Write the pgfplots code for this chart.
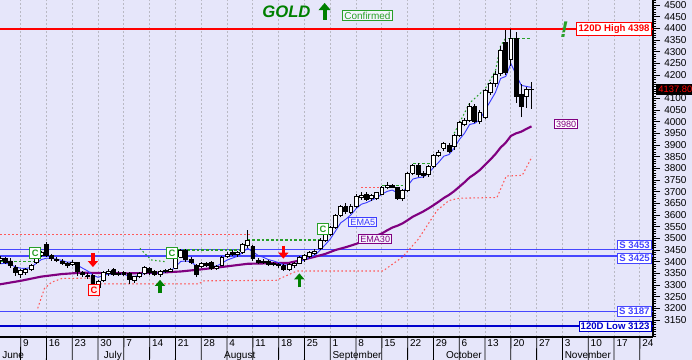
\documentclass[border=0pt]{standalone}
\usepackage{fontspec}
\setmainfont{Liberation Sans}
\usepackage{pgfplots}
\pgfplotsset{compat=1.18}
\usepackage{pgfplotstable}
\usetikzlibrary{arrows.meta}
\definecolor{bg}{RGB}{230,230,250}
\definecolor{sblue}{RGB}{70,70,255}
\definecolor{lowblue}{RGB}{0,0,205}
\definecolor{emapurple}{RGB}{128,0,128}
\definecolor{ema5blue}{RGB}{60,60,255}
\definecolor{stopred}{RGB}{255,90,90}
\definecolor{resgreen}{RGB}{40,160,40}
\definecolor{darkgreen}{RGB}{0,128,0}
\definecolor{gridgray}{RGB}{185,185,195}

\pgfplotstableread{
d o h l c
1 3405 3425 3392 3412
2 3412 3420 3390 3398
3 3403 3415 3375 3382
4 3375 3385 3340 3352
5 3345 3368 3330 3362
6 3352 3375 3345 3368
7 3368 3390 3360 3384
8 3395 3435 3390 3428
9 3428 3445 3420 3440
10 3475 3485 3420 3428
11 3425 3432 3405 3412
12 3410 3420 3398 3405
13 3400 3410 3385 3392
14 3392 3400 3375 3385
15 3388 3408 3380 3398
16 3395 3400 3340 3358
17 3352 3362 3335 3345
18 3340 3350 3325 3335
19 3340 3348 3288 3305
20 3290 3320 3285 3315
21 3318 3360 3315 3355
22 3350 3368 3340 3360
23 3366 3375 3340 3345
24 3345 3358 3338 3350
25 3352 3360 3340 3345
26 3350 3355 3305 3322
27 3318 3340 3310 3335
28 3335 3355 3328 3348
29 3350 3382 3345 3375
30 3372 3378 3345 3355
31 3358 3365 3340 3345
32 3345 3365 3335 3360
33 3358 3368 3350 3362
34 3360 3372 3355 3368
35 3372 3418 3368 3412
36 3420 3455 3415 3448
37 3448 3455 3400 3408
38 3410 3418 3388 3395
39 3385 3390 3335 3345
40 3380 3398 3375 3392
41 3392 3400 3378 3385
42 3398 3405 3365 3372
43 3372 3385 3365 3380
44 3385 3425 3380 3420
45 3422 3440 3415 3432
46 3438 3448 3425 3430
47 3430 3445 3420 3438
48 3440 3480 3435 3475
49 3468 3536 3460 3492
50 3465 3470 3405 3412
51 3405 3415 3390 3398
52 3398 3410 3390 3402
53 3402 3408 3382 3388
54 3388 3398 3380 3392
55 3390 3395 3375 3382
56 3382 3388 3360 3365
57 3365 3395 3360 3390
58 3385 3398 3375 3393
59 3393 3425 3388 3420
60 3410 3432 3400 3425
61 3422 3445 3415 3438
62 3435 3455 3428 3446
63 3455 3500 3450 3492
64 3492 3525 3485 3518
65 3518 3555 3510 3548
66 3548 3605 3540 3598
67 3598 3645 3590 3635
68 3635 3650 3605 3615
69 3612 3648 3605 3638
70 3638 3690 3630 3678
71 3675 3700 3665 3685
72 3688 3700 3660 3668
73 3670 3690 3660 3682
74 3672 3700 3665 3695
75 3690 3725 3685 3718
76 3720 3740 3710 3725
77 3725 3735 3715 3720
78 3718 3722 3665 3672
79 3670 3712 3660 3705
80 3705 3785 3700 3778
81 3778 3820 3770 3812
82 3812 3825 3765 3772
83 3778 3790 3760 3770
84 3772 3815 3765 3808
85 3808 3862 3800 3855
86 3855 3880 3848 3870
87 3886 3912 3875 3905
88 3900 3908 3865 3872
89 3895 3948 3880 3940
90 3942 4005 3935 3998
91 3988 4015 3980 4005
92 4005 4080 4000 4065
93 4065 4075 3995 4002
94 4000 4050 3990 4040
95 4018 4140 4010 4132
96 4125 4172 4115 4162
97 4165 4218 4150 4201
98 4205 4326 4195 4304
99 4340 4392 4200 4213
100 4265 4398 4240 4359
101 4355 4385 4082 4109
102 4115 4160 4020 4065
103 4110 4148 4060 4140
104 4140 4168 4056 4137.8
}\candles

\pgfplotstableread{
d e
1 3391
2 3393
3 3389
4 3377
5 3372
6 3371
7 3375
8 3393
9 3409
10 3415
11 3414
12 3411
13 3405
14 3398
15 3398
16 3385
17 3372
18 3360
19 3342
20 3333
21 3340
22 3347
23 3346
24 3347
25 3346
26 3338
27 3337
28 3341
29 3352
30 3353
31 3350
32 3353
33 3356
34 3360
35 3377
36 3401
37 3403
38 3400
39 3382
40 3385
41 3385
42 3381
43 3381
44 3394
45 3407
46 3415
47 3423
48 3440
49 3457
50 3442
51 3427
52 3419
53 3409
54 3403
55 3396
56 3386
57 3387
58 3389
59 3399
60 3408
61 3418
62 3427
63 3449
64 3472
65 3497
66 3531
67 3566
68 3582
69 3601
70 3627
71 3646
72 3653
73 3663
74 3674
75 3689
76 3701
77 3707
78 3695
79 3698
80 3725
81 3754
82 3760
83 3763
84 3778
85 3804
86 3826
87 3852
88 3859
89 3886
90 3923
91 3950
92 3988
93 3993
94 4009
95 4050
96 4087
97 4125
98 4185
99 4194
100 4249
101 4202
102 4156
103 4151
104 4147
}\emafive

\pgfplotstableread{
d e
1 3303
5 3318
9 3336
13 3347
17 3353
21 3351
26 3350
32 3353
36 3358
40 3367
45 3380
49 3391
53 3393
57 3395
60 3410
62 3421
64 3433
66 3450
68 3462
70 3476
72 3494
75 3521
76 3534
77 3546
78 3554
79 3564
80 3578
81 3593
82 3604
83 3615
84 3628
85 3642
86 3657
87 3673
88 3686
89 3702
90 3721
91 3740
92 3761
93 3776
94 3793
95 3815
96 3837
97 3861
98 3889
99 3910
100 3939
101 3950
102 3957
103 3969
104 3980
}\emathirty

\begin{document}
\begin{tikzpicture}
\fill[bg] (0,0) rectangle (519pt,270pt);
\useasboundingbox (0,0) rectangle (519pt,270pt);
\begin{axis}[
  at={(0pt,17.25pt)}, anchor=south west,
  scale only axis, width=489.75pt, height=252.75pt,
  xmin=0.99, xmax=127.54, ymin=3077.1, ymax=4521.4,
  clip=false,
  axis x line*=bottom, axis y line*=right,
  axis line style={black, line width=0.9pt},
  tick align=outside,
  major tick length=5.25pt, minor tick length=2.6pt,
  xtick={5,10,...,125},
  xticklabels={9,16,23,30,7,14,21,28,4,11,18,25,1,8,15,22,29,6,13,20,27,3,10,17,24},
  xtick style={draw=none},
  xticklabel style={font=\fontsize{7.5}{8}\selectfont, anchor=north west, inner sep=0pt, xshift=1.6pt, yshift=3.6pt},
  xmajorgrids,
  major grid style={gridgray, line width=0.7pt, dash pattern=on 1.5pt off 1.5pt},
  ytick={3150,3200,3250,3300,3350,3400,3450,3500,3550,3600,3650,3700,3750,3800,3850,3900,3950,4000,4050,4100,4200,4250,4300,4350,4400,4450,4500},
  extra y ticks={4150},
  extra y tick labels={},
  extra y tick style={ytick style={black, line width=0.6pt}},
  minor ytick={3080,3090,...,4520},
  ytick style={black, line width=0.6pt},
  yticklabel style={font=\fontsize{7.5}{8}\selectfont, anchor=west, inner sep=0pt, xshift=3pt},
  /pgf/number format/.cd, 1000 sep={}, assume math mode=true,
]
% horizontal level lines
\addplot[red, line width=1.7pt] coordinates {(0.99,4398) (127.54,4398)};
\addplot[sblue, line width=1.1pt] coordinates {(0.99,3453) (127.54,3453)};
\addplot[sblue, line width=1.1pt] coordinates {(0.99,3425) (127.54,3425)};
\addplot[sblue, line width=1.1pt] coordinates {(0.99,3187) (127.54,3187)};
\addplot[lowblue, line width=1.6pt] coordinates {(0.99,3123) (127.54,3123)};

% trailing stop (red dotted)
\addplot[stopred, line width=0.8pt, dash pattern=on 1.2pt off 1.8pt] coordinates {(8.3,3200) (9.6,3285) (11,3312) (13,3328) (19.6,3330)};
\addplot[stopred, line width=0.8pt, dash pattern=on 1.2pt off 1.8pt] coordinates {(20.4,3305) (39.5,3305) (40.5,3318) (54.5,3320) (58.5,3360) (75.2,3360) (79,3420) (82,3495) (85.7,3620) (88,3662) (90,3672) (97.3,3675) (99.1,3767) (102.2,3770) (104.1,3850)};
\addplot[stopred, line width=0.8pt, dash pattern=on 1.2pt off 1.8pt] coordinates {(0.99,3515) (49.5,3515)};
\addplot[stopred, line width=0.8pt, dash pattern=on 1.2pt off 1.8pt] coordinates {(71,3716) (75,3716)};

% resistance (green dashed)
\addplot[resgreen, line width=0.8pt, dash pattern=on 2pt off 1.5pt] coordinates {(0.99,3400) (7.4,3400)};
\addplot[resgreen, line width=0.8pt, dash pattern=on 1.2pt off 1.8pt] coordinates {(28.1,3457) (29.5,3425) (30.4,3407) (33,3400)};
\addplot[resgreen, line width=0.8pt, dash pattern=on 2pt off 1.5pt] coordinates {(35.5,3450) (47.5,3450)};
\addplot[resgreen, line width=0.8pt, dash pattern=on 2pt off 1.5pt] coordinates {(49,3493) (63,3493)};
\addplot[resgreen, line width=0.8pt, dash pattern=on 2pt off 1.5pt] coordinates {(75,3727) (79,3727)};
\addplot[resgreen, line width=0.8pt, dash pattern=on 2pt off 1.5pt] coordinates {(81,3822) (84.5,3822)};
\addplot[resgreen, line width=0.8pt, dash pattern=on 1.2pt off 1.8pt] coordinates {(89,3950) (92,4080) (95,4140) (97,4218) (98,4326) (99,4358)};
\addplot[resgreen, line width=0.8pt, dash pattern=on 2pt off 1.5pt] coordinates {(99.5,4355) (104,4355)};

% moving averages
\addplot[emapurple, line width=1.6pt] table[x=d, y=e] {\emathirty};
\addplot[ema5blue, line width=0.7pt] table[x=d, y=e] {\emafive};

% candles
\pgfplotstablegetrowsof{\candles}
\pgfmathtruncatemacro{\nrows}{\pgfplotsretval-1}
\pgfplotsforeachungrouped \i in {0,...,\nrows}{%
  \pgfplotstablegetelem{\i}{d}\of\candles \let\cd\pgfplotsretval
  \pgfplotstablegetelem{\i}{o}\of\candles \let\co\pgfplotsretval
  \pgfplotstablegetelem{\i}{h}\of\candles \let\ch\pgfplotsretval
  \pgfplotstablegetelem{\i}{l}\of\candles \let\cl\pgfplotsretval
  \pgfplotstablegetelem{\i}{c}\of\candles \let\cc\pgfplotsretval
  \pgfmathsetmacro\xl{\cd-0.38}%
  \pgfmathsetmacro\xr{\cd+0.38}%
  \pgfmathtruncatemacro\up{(\cc>=\co)}%
  \ifnum\up=1 \def\fc{white}\else\def\fc{black}\fi
  \edef\tmp{%
    \noexpand\addplot[black, line width=0.7pt, forget plot] coordinates {(\cd,\cl) (\cd,\ch)};
    \noexpand\addplot[draw=black, fill=\fc, line width=0.6pt, forget plot] coordinates {(\xl,\co) (\xr,\co) (\xr,\cc) (\xl,\cc) (\xl,\co)};
  }\tmp
}

% signal arrows
\addplot[red, line width=2.6pt, -{Triangle[width=7.5pt,length=4.5pt]}, quiver={u=0,v=-60}] coordinates {(19,3437)};
\addplot[red, line width=2.6pt, -{Triangle[width=7.5pt,length=4.5pt]}, quiver={u=0,v=-56}] coordinates {(55.9,3469)};
\addplot[darkgreen, line width=2.6pt, -{Triangle[width=7.5pt,length=4.5pt]}, quiver={u=0,v=58}] coordinates {(32,3264)};
\addplot[darkgreen, line width=2.6pt, -{Triangle[width=7.5pt,length=4.5pt]}, quiver={u=0,v=60}] coordinates {(59,3290)};
\addplot[darkgreen, line width=3pt, -{Triangle[width=9pt,length=5.5pt]}, quiver={u=0,v=73}] coordinates {(63.9,4436)};

% week separators and month separators
\pgfplotsforeachungrouped \t in {5,10,...,125}{%
  \edef\tmp{\noexpand\draw[black, line width=0.6pt] (axis cs:\t,3077.1) -- ++(0,-9.75pt);}\tmp
}
\pgfplotsforeachungrouped \t in {20.7,44,65,87,110}{%
  \edef\tmp{\noexpand\draw[black, line width=0.6pt] (axis cs:\t,3077.1) ++(0,-9.75pt) -- ++(0,-8pt);}\tmp
}
\node[anchor=north west, inner sep=0pt, font=\fontsize{7.5}{8}\selectfont] at ([xshift=1.5pt,yshift=-10.8pt]axis cs:0.99,3077.1) {June};
\node[anchor=north west, inner sep=0pt, font=\fontsize{7.5}{8}\selectfont] at ([xshift=1.5pt,yshift=-10.8pt]axis cs:20.7,3077.1) {July};
\node[anchor=north west, inner sep=0pt, font=\fontsize{7.5}{8}\selectfont] at ([xshift=1.5pt,yshift=-10.8pt]axis cs:44,3077.1) {August};
\node[anchor=north west, inner sep=0pt, font=\fontsize{7.5}{8}\selectfont] at ([xshift=1.5pt,yshift=-10.8pt]axis cs:65,3077.1) {September};
\node[anchor=north west, inner sep=0pt, font=\fontsize{7.5}{8}\selectfont] at ([xshift=1.5pt,yshift=-10.8pt]axis cs:87,3077.1) {October};
\node[anchor=north west, inner sep=0pt, font=\fontsize{7.5}{8}\selectfont] at ([xshift=1.5pt,yshift=-10.8pt]axis cs:110,3077.1) {November};

% C markers
\node[draw=resgreen, fill=white, text=resgreen, line width=0.6pt, inner sep=1pt, minimum size=8pt, font=\bfseries\fontsize{7}{7}\selectfont] at (axis cs:7.8,3437) {C};
\node[draw=resgreen, fill=white, text=resgreen, line width=0.6pt, inner sep=1pt, minimum size=8pt, font=\bfseries\fontsize{7}{7}\selectfont] at (axis cs:34.3,3437) {C};
\node[draw=resgreen, fill=white, text=resgreen, line width=0.6pt, inner sep=1pt, minimum size=8pt, font=\bfseries\fontsize{7}{7}\selectfont] at (axis cs:63.6,3540) {C};
\node[draw=red, fill=red!8!white, text=red, line width=0.6pt, inner sep=1pt, minimum size=8pt, font=\bfseries\fontsize{7}{7}\selectfont] at (axis cs:19.2,3278) {C};

% line labels
\node[draw=ema5blue, fill=white!55!bg, text=ema5blue, line width=0.6pt, inner sep=1.2pt, font=\fontsize{6.8}{7}\selectfont] at (axis cs:71.3,3570) {EMA5};
\node[draw=emapurple, fill=white!55!bg, text=emapurple, line width=0.6pt, inner sep=1.2pt, font=\fontsize{6.8}{7}\selectfont] at (axis cs:73.7,3497) {EMA30};
\node[draw=emapurple, fill=white, text=emapurple, line width=0.6pt, inner sep=1.2pt, font=\fontsize{6.8}{7}\selectfont] at (axis cs:110.7,3990) {3980};

\node[draw=red, fill=white, text=red, line width=0.7pt, inner sep=1.3pt, anchor=east, font=\bfseries\fontsize{7.2}{8}\selectfont] at (axis cs:127.3,4398) {120D High 4398};
\node[draw=sblue, fill=white, text=sblue, line width=0.7pt, inner sep=1.1pt, anchor=east, font=\bfseries\fontsize{7.2}{8}\selectfont] at (axis cs:127.3,3472) {S 3453};
\node[draw=sblue, fill=white, text=sblue, line width=0.7pt, inner sep=1.1pt, anchor=east, font=\bfseries\fontsize{7.2}{8}\selectfont] at (axis cs:127.3,3415) {S 3425};
\node[draw=sblue, fill=white, text=sblue, line width=0.7pt, inner sep=1.3pt, anchor=east, font=\bfseries\fontsize{7.2}{8}\selectfont] at (axis cs:127.3,3187) {S 3187};
\node[draw=lowblue, fill=white, text=lowblue, line width=0.7pt, inner sep=1.3pt, anchor=east, font=\bfseries\fontsize{7.2}{8}\selectfont] at (axis cs:127.3,3123) {120D Low 3123};

% title
\node[text=darkgreen, font=\bfseries\itshape\fontsize{12.5}{14}\selectfont] at (axis cs:56.5,4470) {GOLD};
\node[draw=resgreen, fill=white!55!bg, text=resgreen, line width=0.6pt, inner sep=1.2pt, font=\fontsize{7.5}{8}\selectfont] at (axis cs:72.2,4455) {Confirmed};
\node[text=resgreen, font=\bfseries\itshape\fontsize{17}{18}\selectfont] at (axis cs:110.3,4395) {!};

\coordinate (lastp) at (axis cs:127.54,4137.8);
\end{axis}
\node[fill=black, text=red, anchor=west, inner sep=1.5pt, font=\fontsize{7}{8}\selectfont] at ([xshift=2.4pt]lastp) {4137.80};
\end{tikzpicture}
\end{document}
